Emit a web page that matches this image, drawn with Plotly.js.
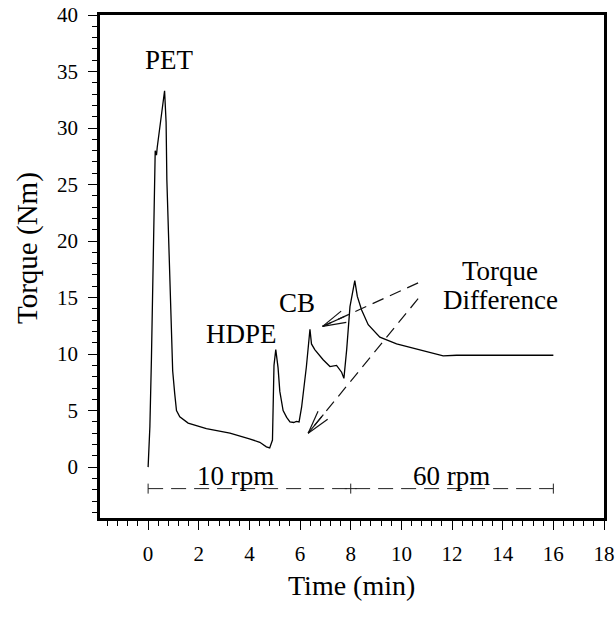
<!DOCTYPE html>
<html>
<head>
<meta charset="utf-8">
<script src="https://cdn.plot.ly/plotly-3.0.1.min.js"></script>
<style>
  html, body { margin: 0; padding: 0; background: #ffffff; }
  #chart { width: 616px; height: 618px; }
</style>
</head>
<body>
<div id="chart"></div>
<script>
// ---- data ----
const timeMin = [0, 0.07, 0.13, 0.2, 0.26, 0.28, 0.33, 0.36, 0.65, 0.71, 0.74, 0.86, 0.97, 1.05, 1.12, 1.25,
  1.58, 2.3, 3.23, 4.0, 4.41, 4.67, 4.8, 4.91, 4.97, 5.04, 5.13, 5.2, 5.33, 5.47, 5.6, 5.75, 5.85, 5.96,
  6.06, 6.25, 6.39, 6.45, 6.58, 6.91, 7.18, 7.44, 7.64, 7.73, 7.84, 7.97, 8.16, 8.26, 8.43, 8.69, 9.15,
  9.81, 10.73, 11.65, 12.18, 16.0];
const torqueNm = [0, 3.6, 9.5, 18, 25.4, 28.0, 27.6, 28.3, 33.3, 30.5, 25.4, 16.5, 8.5, 6.5, 5.0, 4.45,
  3.9, 3.4, 3.0, 2.5, 2.2, 1.8, 1.7, 2.4, 9.0, 10.4, 8.8, 6.7, 5.0, 4.4, 4.0, 3.95, 4.05, 4.0,
  5.3, 8.9, 12.2, 10.9, 10.4, 9.5, 8.9, 9.0, 8.4, 7.85, 10.4, 14.2, 16.5, 15.1, 13.9, 12.6, 11.5,
  10.9, 10.35, 9.85, 9.9, 9.9];

const labelTexts = ["PET", "HDPE", "CB", "Torque", "Difference", "10 rpm", "60 rpm"];
const labelX     = [0.85, 3.69, 5.87, 13.89, 13.93, 3.45, 11.98];
const labelY     = [36.0, 11.8, 14.5, 17.35, 14.75, -0.8, -0.8];

// speed segments (min) and the level of the speed line (Nm)
const speedBounds = [0, 8, 16];
const speedLineLevel = -1.9;

// "Torque Difference" arrows: tails and tips
const arrowTailX = [10.66, 10.66];
const arrowTailY = [16.3, 14.9];
const arrowTipX  = [6.89, 6.32];
const arrowTipY  = [12.45, 3.0];

const xTickVals = [0, 2, 4, 6, 8, 10, 12, 14, 16, 18];
const yTickVals = [0, 5, 10, 15, 20, 25, 30, 35, 40];

const xTitle = "Time (min)";
const yTitle = "Torque (Nm)";

// ---- layout ----
const W = 616, H = 618;
const M = { l: 100, r: 12, t: 15, b: 100 };
const xRange = [-1.9, 18];
const yRange = [-4.5, 40];
const plotW = W - M.l - M.r, plotH = H - M.t - M.b;
const sx = plotW / (xRange[1] - xRange[0]);
const sy = plotH / (yRange[1] - yRange[0]);

const FONT = "Liberation Serif, Times New Roman, serif";

const shapes = [];
// speed line (dashed) with end marks
shapes.push({ type: "line", xref: "x", yref: "y",
  x0: speedBounds[0], x1: speedBounds[speedBounds.length - 1], y0: speedLineLevel, y1: speedLineLevel,
  line: { color: "#222", width: 1, dash: "15px,8px" } });
const markHalf = 5 / sy;
speedBounds.forEach(b => {
  shapes.push({ type: "line", xref: "x", yref: "y", x0: b, x1: b,
    y0: speedLineLevel - markHalf, y1: speedLineLevel + markHalf,
    line: { color: "#222", width: 1 } });
});
shapes.push({ type: "line", xref: "x", yref: "y", x0: speedBounds[1] - 6 / sx, x1: speedBounds[1] + 6 / sx,
  y0: speedLineLevel, y1: speedLineLevel, line: { color: "#222", width: 1 } });

// arrows
for (let i = 0; i < arrowTipX.length; i++) {
  shapes.push({ type: "line", xref: "x", yref: "y",
    x0: arrowTailX[i], y0: arrowTailY[i], x1: arrowTipX[i], y1: arrowTipY[i],
    line: { color: "#111", width: 1.2, dash: "12px,7px" } });
  const a = Math.atan2((arrowTailY[i] - arrowTipY[i]) * sy, (arrowTailX[i] - arrowTipX[i]) * sx);
  [-1, 0, 1].forEach(k => {
    const ang = a + k * 15 * Math.PI / 180;
    const L = 24;
    shapes.push({ type: "line", xref: "x", yref: "y",
      x0: arrowTipX[i], y0: arrowTipY[i],
      x1: arrowTipX[i] + L * Math.cos(ang) / sx, y1: arrowTipY[i] + L * Math.sin(ang) / sy,
      line: { color: "#111", width: 1.2 } });
  });
}

const annotations = labelTexts.map((t, i) => ({
  text: t, x: labelX[i], y: labelY[i], xref: "x", yref: "y",
  showarrow: false, xanchor: "center", yanchor: "middle",
  font: { family: FONT, size: 27, color: "#000" }
}));
// axis titles (placed as in the reference)
annotations.push({
  text: yTitle, xref: "paper", yref: "paper",
  x: (27 - M.l) / plotW, y: (H - M.b - 248) / plotH,
  xanchor: "center", yanchor: "middle", textangle: -90, showarrow: false,
  font: { family: FONT, size: 29, color: "#000" }
});
annotations.push({
  text: xTitle, xref: "paper", yref: "paper",
  x: (351 - M.l) / plotW, y: (H - M.b - 585) / plotH,
  xanchor: "center", yanchor: "middle", showarrow: false,
  font: { family: FONT, size: 28, color: "#000" }
});

const trace = {
  x: timeMin, y: torqueNm, type: "scatter", mode: "lines",
  line: { color: "#000", width: 1.3 }, hoverinfo: "skip"
};

const axisCommon = {
  showgrid: false, zeroline: false, showline: true, mirror: true,
  linecolor: "#000", linewidth: 2.7,
  ticks: "outside", ticklen: 9, tickwidth: 1, tickcolor: "#000",
  tickfont: { family: FONT, size: 21, color: "#000" }
};

const layout = {
  width: W, height: H, margin: M,
  paper_bgcolor: "#fff", plot_bgcolor: "#fff",
  showlegend: false,
  xaxis: Object.assign({}, axisCommon, {
    range: xRange, tickmode: "array", tickvals: xTickVals,
    ticklabelstandoff: 6,
    minor: { dtick: 0.4, tick0: 0, ticks: "outside", ticklen: 5, tickcolor: "#000", tickwidth: 1 }
  }),
  yaxis: Object.assign({}, axisCommon, {
    range: yRange, tickmode: "array", tickvals: yTickVals,
    ticklabelstandoff: 6,
    minor: { dtick: 1, tick0: 0, ticks: "outside", ticklen: 5, tickcolor: "#000", tickwidth: 1 }
  }),
  shapes: shapes,
  annotations: annotations
};

Plotly.newPlot("chart", [trace], layout, { displayModeBar: false, staticPlot: true });
</script>
</body>
</html>
